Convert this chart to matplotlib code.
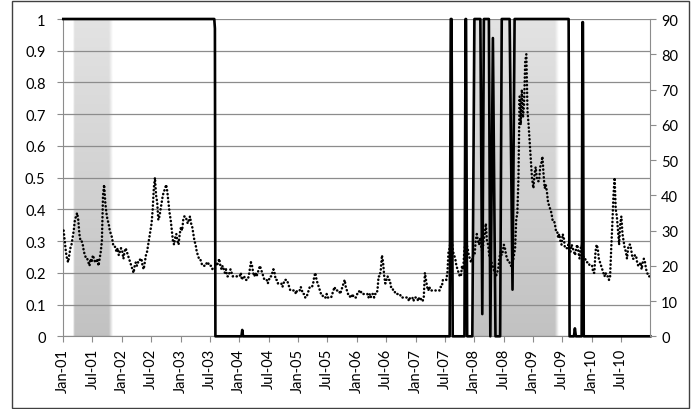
import numpy as np
import pandas as pd
import matplotlib
matplotlib.use('Agg')
import matplotlib.pyplot as plt
import matplotlib.dates as mdates
from matplotlib.patches import Rectangle

plt.rcParams['font.family'] = ['Lato', 'DejaVu Sans']

# weekly VIX level (right axis), 52 values per year
vix_2001 = [30, 27, 24, 22, 21, 23, 25, 26, 28, 30, 33, 34, 35, 33, 29, 27, 27, 26, 24, 23, 22, 22, 21, 20, 22, 21,
            23, 22, 21, 21, 22, 20, 22, 24, 27, 40, 43, 38, 35, 33, 32, 30, 29, 28, 26, 26, 25, 24, 25, 23, 24, 25]
vix_2002 = [24, 22, 24, 25, 24, 23, 22, 21, 20, 19, 18, 20, 21, 20, 21, 21, 22, 22, 20, 19, 21, 23, 24, 26, 28, 30,
            32, 36, 42, 45, 40, 38, 33, 34, 36, 38, 40, 41, 42, 43, 41, 38, 35, 33, 30, 27, 26, 28, 29, 27, 26, 29]
vix_2003 = [31, 30, 33, 34, 34, 33, 32, 33, 34, 32, 31, 29, 27, 26, 24, 23, 22, 22, 21, 20, 20, 20, 20, 21, 21, 20,
            20, 20, 19, 19, 19, 21, 20, 21, 22, 20, 19, 20, 19, 18, 19, 17, 17, 18, 19, 18, 17, 17, 17, 17, 17, 17]
vix_2004 = [17, 18, 16, 17, 17, 16, 16, 16, 17, 19, 21, 20, 18, 17, 18, 17, 18, 19, 20, 19, 18, 17, 16, 16, 16, 15,
            16, 17, 17, 18, 19, 18, 16, 16, 15, 15, 15, 15, 14, 15, 16, 16, 16, 15, 14, 13, 13, 13, 13, 13, 12, 13]
vix_2005 = [13, 13, 14, 13, 12, 12, 11, 11, 12, 13, 14, 14, 14, 15, 17, 18, 16, 15, 14, 13, 12, 12, 11, 11, 11, 12,
            11, 11, 11, 11, 12, 13, 14, 13, 13, 13, 13, 12, 13, 14, 15, 16, 14, 13, 12, 12, 11, 11, 12, 11, 11, 11]
vix_2006 = [12, 12, 13, 13, 12, 12, 12, 12, 12, 12, 11, 12, 11, 12, 12, 11, 12, 12, 13, 17, 17, 19, 23, 21, 17, 15,
            16, 17, 16, 16, 14, 14, 13, 13, 12, 12, 12, 12, 12, 11, 11, 11, 11, 11, 11, 11, 10, 11, 11, 11, 10, 11]
vix_2007 = [11, 11, 10, 11, 11, 10, 10, 11, 18, 16, 14, 13, 14, 13, 13, 13, 13, 13, 13, 13, 13, 13, 14, 14, 16, 16,
            16, 16, 18, 24, 25, 28, 27, 24, 23, 22, 20, 19, 18, 17, 17, 20, 19, 24, 27, 26, 25, 23, 22, 21, 22, 23]
vix_2008 = [23, 27, 29, 27, 26, 28, 25, 24, 27, 29, 32, 27, 26, 23, 22, 21, 20, 19, 18, 17, 18, 19, 22, 24, 23, 24,
            26, 25, 23, 22, 21, 21, 20, 20, 21, 23, 25, 33, 35, 45, 68, 60, 70, 62, 66, 78, 80, 64, 60, 55, 50, 45]
vix_2009 = [42, 46, 48, 45, 44, 44, 48, 49, 51, 46, 42, 43, 41, 38, 37, 36, 35, 33, 33, 32, 30, 30, 28, 29, 27, 26,
            29, 28, 25, 25, 25, 26, 25, 24, 26, 25, 24, 23, 25, 26, 24, 22, 25, 26, 23, 22, 22, 21, 21, 21, 20, 20]
vix_2010 = [20, 18, 18, 24, 26, 25, 22, 21, 20, 19, 18, 17, 18, 17, 17, 16, 17, 25, 32, 40, 45, 36, 34, 30, 26, 32,
            34, 29, 27, 25, 24, 22, 25, 26, 26, 24, 22, 22, 23, 23, 21, 20, 20, 21, 19, 21, 22, 21, 19, 18, 17, 17]
vix_years = [2001, 2002, 2003, 2004, 2005, 2006, 2007, 2008, 2009, 2010]
vix_by_year = [vix_2001, vix_2002, vix_2003, vix_2004, vix_2005, vix_2006, vix_2007, vix_2008, vix_2009, vix_2010]

# regime probability (left axis)
regime_dates = ['2001-01-01', '2003-07-29', '2003-08-02', '2003-08-05', '2004-01-14', '2004-01-19', '2004-01-24',
                '2007-08-01', '2007-08-08', '2007-08-13', '2007-08-20', '2007-11-01', '2007-11-08', '2007-11-11',
                '2007-11-18', '2007-12-20', '2008-01-02', '2008-02-08', '2008-02-20', '2008-03-01', '2008-04-01',
                '2008-04-10', '2008-04-26', '2008-05-12', '2008-06-10', '2008-06-20', '2008-08-08', '2008-08-26',
                '2008-09-08', '2009-08-10', '2009-08-16', '2009-09-12', '2009-09-18', '2009-09-24', '2009-10-30',
                '2009-11-04', '2009-11-07', '2009-11-12', '2010-12-31']
regime_prob = [1, 1, 0.97, 0, 0, 0.02, 0, 0, 1, 1, 0, 0, 1, 1, 0, 0, 1, 1, 0.07, 1, 1, 0, 0.94, 0, 0, 1, 1, 0.147, 1,
               1, 0, 0, 0.025, 0, 0, 0.99, 0.99, 0, 0]

# recession periods (shaded)
recessions = [('2001-03-04', '2001-11-07'), ('2007-12-19', '2009-06-10')]

vix_dates = pd.DatetimeIndex(np.concatenate(
    [pd.date_range(f'{y}-01-03', periods=52, freq='7D').values for y in vix_years]))
vix = np.concatenate(vix_by_year)
rdates = pd.to_datetime(regime_dates)

fig = plt.figure(figsize=(6.98, 4.10), dpi=100)
fig.patches.append(Rectangle((12 / 698, 1 - 409 / 410), 677 / 698, 407 / 410, transform=fig.transFigure,
                             fill=False, edgecolor='#404040', lw=1))
ax = fig.add_axes([63.3 / 698, 1 - 337.3 / 410, 587 / 698, 317.3 / 410])
grid_c = '#8c8c8c'


def shade(a, start, end, fade_l, fade_r):
    x0 = mdates.date2num(pd.Timestamp(start))
    x1 = mdates.date2num(pd.Timestamp(end))
    xs = np.linspace(x0, x1, 300)
    ys = np.linspace(1, 0, 120)[:, None]
    grey = 0.76 + 0.13 * ys
    alpha = np.clip((xs - x0) / fade_l, 0, 1) * np.clip((x1 - xs) / fade_r, 0, 1)
    c = 1 - alpha[None, :] * (1 - grey)
    a.imshow(np.dstack([c, c, c]), extent=[x0, x1, 0, 1], aspect='auto', interpolation='bilinear', zorder=0.5)


for s, e in recessions:
    shade(ax, s, e, 10, 25)

ax.plot(rdates, regime_prob, color='black', lw=1.9, zorder=3, clip_on=False, solid_joinstyle='round')

ax.set_xlim(mdates.date2num(pd.Timestamp('2001-01-01')), mdates.date2num(pd.Timestamp('2010-12-31')))
ax.set_ylim(0, 1)
ax.set_yticks(np.arange(0, 1.01, 0.1))
ax.yaxis.set_major_formatter(plt.FuncFormatter(lambda v, p: f'{v:.1f}'.rstrip('0').rstrip('.') if v else '0'))
ax.xaxis.set_major_locator(mdates.MonthLocator(bymonth=[1, 7]))
ax.xaxis.set_major_formatter(mdates.DateFormatter('%b-%y'))
ax.grid(axis='y', color=grid_c, lw=0.9, zorder=1)
ax.set_axisbelow(False)
for side in ['top', 'right']:
    ax.spines[side].set_visible(False)
for side in ['left', 'bottom']:
    ax.spines[side].set_color(grid_c)
ax.tick_params(axis='y', length=4.3, color=grid_c, pad=8.5, labelsize=10.5)
ax.tick_params(axis='x', length=4.3, color=grid_c, pad=4, labelsize=10.5, labelrotation=90)

ax2 = ax.twinx()
ax2.plot(vix_dates, vix, color='black', lw=1.8, linestyle=(0, (0.1, 1.45)), dash_capstyle='round', zorder=4)
ax2.set_ylim(0, 90)
ax2.set_yticks(range(0, 91, 10))
for side in ['top', 'left', 'bottom']:
    ax2.spines[side].set_visible(False)
ax2.spines['right'].set_color(grid_c)
ax2.tick_params(axis='y', length=4.3, color=grid_c, pad=3.5, labelsize=10.5)

fig.savefig('out.png', dpi=100)
